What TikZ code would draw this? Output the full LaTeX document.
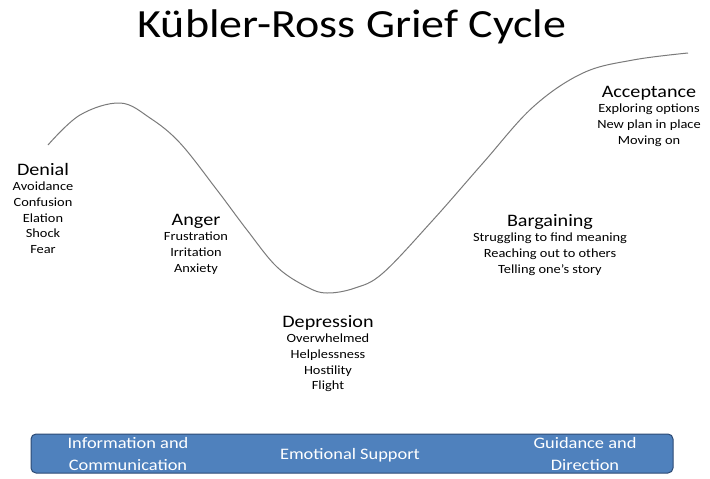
\documentclass[tikz,border=0pt]{standalone}
\usepackage{fontspec}
\setmainfont{Carlito}[FakeStretch=1.15]
\usetikzlibrary{positioning}

\definecolor{barblue}{HTML}{4F81BD}
\definecolor{barline}{HTML}{2C4A74}
\definecolor{curvegray}{HTML}{7A7A7A}

\tikzset{
    stagehead/.style={font=\fontsize{17.5}{20}\selectfont, inner sep=0pt, anchor=base},
    stagetext/.style={font=\fontsize{12.5}{15.7}\selectfont, align=center, inner sep=0pt},
    bartext/.style={font=\fontsize{16}{21}\selectfont, text=white, align=center, inner sep=0pt}
}

\begin{document}
\begin{tikzpicture}[x=1pt,y=-1pt]
        % fix the page to the size of the reference
        \useasboundingbox (0,0) rectangle (710,479);

        % title
        \node[font=\fontsize{40}{44}\selectfont, anchor=base, inner sep=0pt] (title) at (352,37) {Kübler-Ross Grief Cycle};

        % the grief curve, drawn through points read off by hand
        \draw[curvegray, line width=1pt] plot[smooth, tension=0.6] coordinates {
            (48,145) (80,115) (120,103) (150,118) (180,143) (217,190) (247,230)
            (277,267) (307,287) (327,293) (355,288) (383,273) (433,220)
            (483,163) (533,107) (583,73) (633,60) (688,53)};

        % stage names
        \node[stagehead] (denial)     at (43,175)  {Denial};
        \node[stagehead] (anger)      at (196,225) {Anger};
        \node[stagehead] (depression) at (328,327) {Depression};
        \node[stagehead] (bargaining) at (550,226) {Bargaining};
        \node[stagehead] (acceptance) at (649,97)  {Acceptance};

        % feelings under every stage (first line about 16pt under the name)
        \node[stagetext, below=7pt of denial.base] (denialtext)
            {Avoidance\\Confusion\\Elation\\Shock\\Fear};
        \node[stagetext, below=7pt of anger.base] (angertext)
            {Frustration\\Irritation\\Anxiety};
        \node[stagetext, below=7pt of depression.base] (depressiontext)
            {Overwhelmed\\Helplessness\\Hostility\\Flight};
        \node[stagetext, below=7pt of bargaining.base] (bargainingtext)
            {Struggling to find meaning\\Reaching out to others\\Telling one’s story};
        \node[stagetext, below=7pt of acceptance.base] (acceptancetext)
            {Exploring options\\New plan in place\\Moving on};

        % support bar at the bottom
        \draw[barline, fill=barblue, line width=1pt, rounded corners=5pt] (31,434) rectangle (673,473);
        \node[bartext] (info)     at (128,454) {Information and\\Communication};
        \node[bartext] (emotion)  at (350,455) {Emotional Support};
        \node[bartext] (guidance) at (585,454) {Guidance and\\Direction};
    \end{tikzpicture}
\end{document}
